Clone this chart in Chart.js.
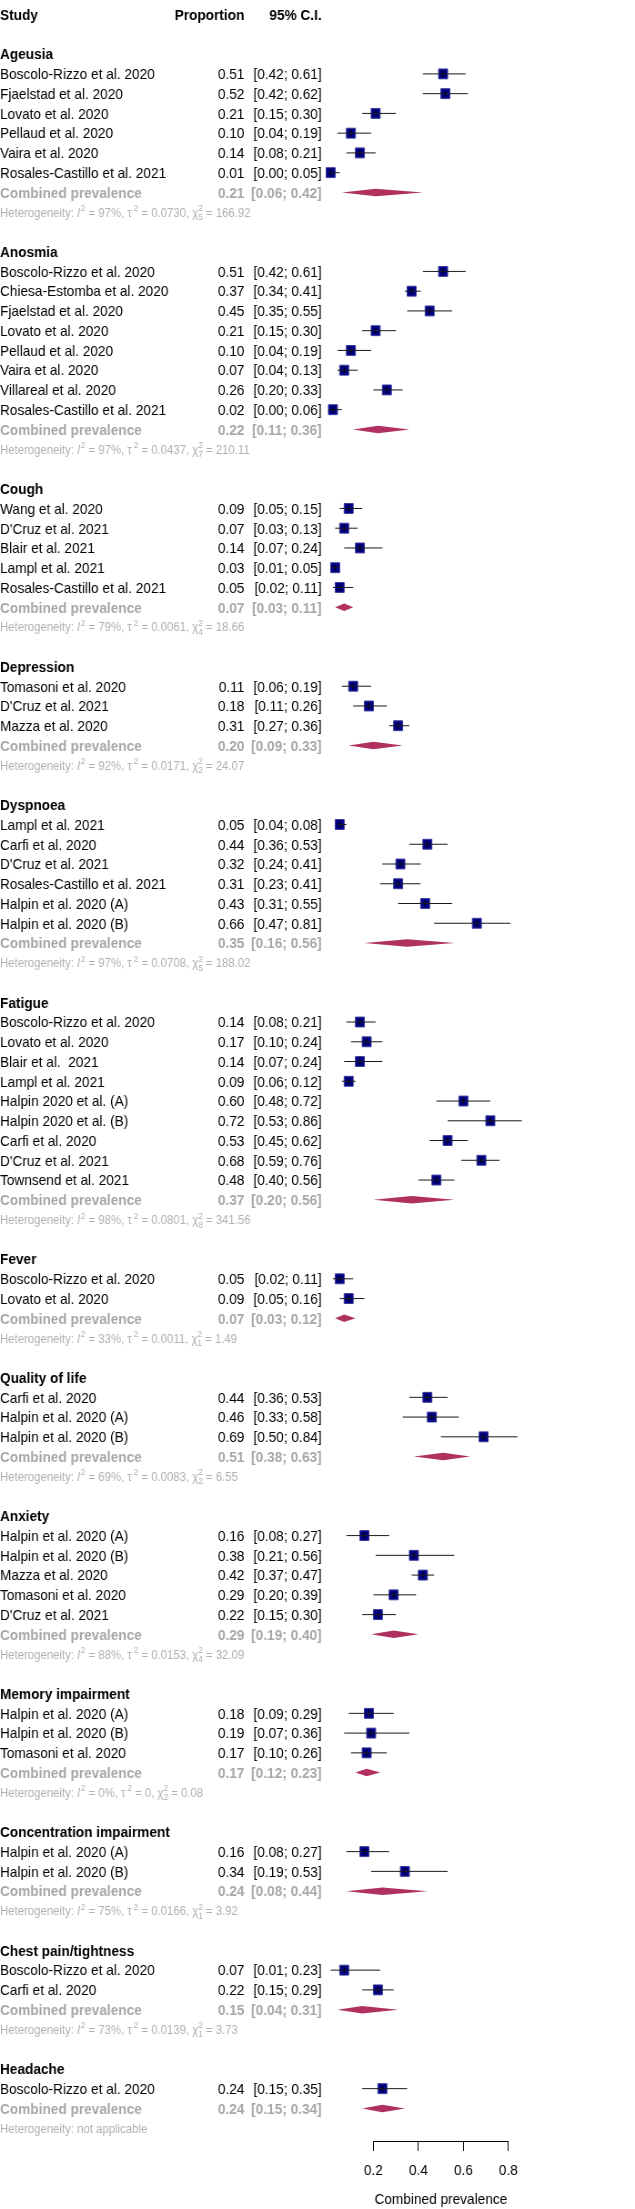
<!DOCTYPE html>
<html><head><meta charset="utf-8">
<script src="https://cdn.jsdelivr.net/npm/chart.js@4.4.1/dist/chart.umd.min.js"></script>
<style>html,body{margin:0;padding:0;background:#fff;overflow:hidden}</style>
</head><body>
<canvas id="c" width="698" height="2209" style="display:block;width:635px;height:2209px"></canvas>
<script>
// ---------------- data ----------------
const groupNames = ["Ageusia","Anosmia","Cough","Depression","Dyspnoea","Fatigue","Fever","Quality of life","Anxiety","Memory impairment","Concentration impairment","Chest pain/tightness","Headache"];
const groupSizes = [6,8,5,3,6,9,2,3,5,3,2,2,1];
const studyLabels = [
 "Boscolo-Rizzo et al. 2020","Fjaelstad et al. 2020","Lovato et al. 2020","Pellaud et al. 2020","Vaira et al. 2020","Rosales-Castillo et al. 2021",
 "Boscolo-Rizzo et al. 2020","Chiesa-Estomba et al. 2020","Fjaelstad et al. 2020","Lovato et al. 2020","Pellaud et al. 2020","Vaira et al. 2020","Villareal et al. 2020","Rosales-Castillo et al. 2021",
 "Wang et al. 2020","D'Cruz et al. 2021","Blair et al. 2021","Lampl et al. 2021","Rosales-Castillo et al. 2021",
 "Tomasoni et al. 2020","D'Cruz et al. 2021","Mazza et al. 2020",
 "Lampl et al. 2021","Carfi et al. 2020","D'Cruz et al. 2021","Rosales-Castillo et al. 2021","Halpin et al. 2020 (A)","Halpin et al. 2020 (B)",
 "Boscolo-Rizzo et al. 2020","Lovato et al. 2020","Blair et al.  2021","Lampl et al. 2021","Halpin 2020 et al. (A)","Halpin 2020 et al. (B)","Carfi et al. 2020","D'Cruz et al. 2021","Townsend et al. 2021",
 "Boscolo-Rizzo et al. 2020","Lovato et al. 2020",
 "Carfi et al. 2020","Halpin et al. 2020 (A)","Halpin et al. 2020 (B)",
 "Halpin et al. 2020 (A)","Halpin et al. 2020 (B)","Mazza et al. 2020","Tomasoni et al. 2020","D'Cruz et al. 2021",
 "Halpin et al. 2020 (A)","Halpin et al. 2020 (B)","Tomasoni et al. 2020",
 "Halpin et al. 2020 (A)","Halpin et al. 2020 (B)",
 "Boscolo-Rizzo et al. 2020","Carfi et al. 2020",
 "Boscolo-Rizzo et al. 2020"
];
const studyProp = [0.51,0.52,0.21,0.10,0.14,0.01, 0.51,0.37,0.45,0.21,0.10,0.07,0.26,0.02, 0.09,0.07,0.14,0.03,0.05, 0.11,0.18,0.31, 0.05,0.44,0.32,0.31,0.43,0.66, 0.14,0.17,0.14,0.09,0.60,0.72,0.53,0.68,0.48, 0.05,0.09, 0.44,0.46,0.69, 0.16,0.38,0.42,0.29,0.22, 0.18,0.19,0.17, 0.16,0.34, 0.07,0.22, 0.24];
const studyLower = [0.42,0.42,0.15,0.04,0.08,0.00, 0.42,0.34,0.35,0.15,0.04,0.04,0.20,0.00, 0.05,0.03,0.07,0.01,0.02, 0.06,0.11,0.27, 0.04,0.36,0.24,0.23,0.31,0.47, 0.08,0.10,0.07,0.06,0.48,0.53,0.45,0.59,0.40, 0.02,0.05, 0.36,0.33,0.50, 0.08,0.21,0.37,0.20,0.15, 0.09,0.07,0.10, 0.08,0.19, 0.01,0.15, 0.15];
const studyUpper = [0.61,0.62,0.30,0.19,0.21,0.05, 0.61,0.41,0.55,0.30,0.19,0.13,0.33,0.06, 0.15,0.13,0.24,0.05,0.11, 0.19,0.26,0.36, 0.08,0.53,0.41,0.41,0.55,0.81, 0.21,0.24,0.24,0.12,0.72,0.86,0.62,0.76,0.56, 0.11,0.16, 0.53,0.58,0.84, 0.27,0.56,0.47,0.39,0.30, 0.29,0.36,0.26, 0.27,0.53, 0.23,0.29, 0.35];
const combProp  = [0.21,0.22,0.07,0.20,0.35,0.37,0.07,0.51,0.29,0.17,0.24,0.15,0.24];
const combLower = [0.06,0.11,0.03,0.09,0.16,0.20,0.03,0.38,0.19,0.12,0.08,0.04,0.15];
const combUpper = [0.42,0.36,0.11,0.33,0.56,0.56,0.12,0.63,0.40,0.23,0.44,0.31,0.34];
const hetI2   = ["97%","97%","79%","92%","97%","98%","33%","69%","88%","0%","75%","73%",null];
const hetTau2 = ["0.0730","0.0437","0.0061","0.0171","0.0708","0.0801","0.0011","0.0083","0.0153","0","0.0166","0.0139",null];
const hetDf   = ["5","7","4","2","5","8","1","2","4","2","1","1",null];
const hetChi2 = ["166.92","210.11","18.66","24.07","188.02","341.56","1.49","6.55","32.09","0.08","3.92","3.73",null];
const xTicks = [0.2,0.4,0.6,0.8];
const xTitle = "Combined prevalence";
const headers = ["Study","Proportion","95% C.I."];

// ---------------- row layout ----------------
const headingRow = [], studyRow = [], combRow = [], hetRow = [];
let r = 2, k = 0;
groupSizes.forEach((n, g) => {
  headingRow.push(r++);
  for (let i = 0; i < n; i++) { studyRow.push(r++); k++; }
  combRow.push(r++);
  hetRow.push(r++);
  r++;
});

const ciData = [];
const estData = [];
studyProp.forEach((p, i) => {
  ciData.push({x: studyLower[i], y: studyRow[i]}, {x: studyUpper[i], y: studyRow[i]}, {x: null, y: null});
  estData.push({x: p, y: studyRow[i]});
});

const FONT = '"Liberation Sans", Arial, Helvetica, sans-serif';
const COL_VAL_R = 268.6, COL_CI_R = 353.6;
const GRAY_COMB = '#a7a7a7', GRAY_HET = '#b0b0b0', DIAMOND = '#B03060';
const f2 = v => v.toFixed(2);

function drawHet(ctx, g, y) {
  const base = y + 4.5;
  const norm = '12.5px ' + FONT, ital = 'italic 12.5px ' + FONT, small = '9px ' + FONT;
  ctx.fillStyle = GRAY_HET;
  ctx.textAlign = 'left';
  ctx.textBaseline = 'alphabetic';
  let x = 0;
  const put = (t, font, dy) => { ctx.font = font; ctx.fillText(t, x, base + (dy || 0)); x += ctx.measureText(t).width; };
  if (hetI2[g] === null) { put('Heterogeneity: not applicable', norm); return; }
  put('Heterogeneity: ', norm);
  put('I', ital); x += 0.5;
  put('2', small, -5.5);
  put(' = ' + hetI2[g] + ', \u03c4', norm); x += 2;
  put('2', small, -5.5);
  put(' = ' + hetTau2[g] + ', \u03c7', norm);
  ctx.font = small;
  const w1 = ctx.measureText('2').width, w2 = ctx.measureText(hetDf[g]).width;
  ctx.fillText('2', x, base - 5.5);
  ctx.fillText(hetDf[g], x, base + 3.5);
  x += Math.max(w1, w2);
  put(' = ' + hetChi2[g], norm);
}

const forestPlugin = {
  id: 'forest',
  afterDatasetsDraw(chart) {
    const ctx = chart.ctx, xs = chart.scales.x, ys = chart.scales.y;
    ctx.save();
    ctx.fillStyle = DIAMOND;
    combProp.forEach((p, g) => {
      const row = combRow[g];
      ctx.beginPath();
      ctx.moveTo(xs.getPixelForValue(combLower[g]), ys.getPixelForValue(row));
      ctx.lineTo(xs.getPixelForValue(p), ys.getPixelForValue(row - 0.19));
      ctx.lineTo(xs.getPixelForValue(combUpper[g]), ys.getPixelForValue(row));
      ctx.lineTo(xs.getPixelForValue(p), ys.getPixelForValue(row + 0.19));
      ctx.closePath();
      ctx.fill();
    });
    ctx.restore();
  },
  afterDraw(chart) {
    const ctx = chart.ctx, xs = chart.scales.x, ys = chart.scales.y;
    ctx.save();
    // axis line
    ctx.strokeStyle = '#000'; ctx.lineWidth = 1;
    const yb = Math.round(chart.chartArea.bottom) + 0.5;
    ctx.beginPath();
    ctx.moveTo(xs.getPixelForValue(xTicks[0]), yb);
    ctx.lineTo(xs.getPixelForValue(xTicks[xTicks.length - 1]), yb);
    ctx.stroke();

    ctx.textBaseline = 'alphabetic';
    const B = 5.3;
    // header
    const hy = ys.getPixelForValue(0) + B;
    ctx.fillStyle = '#000';
    ctx.font = 'bold 15px ' + FONT;
    ctx.textAlign = 'left'; ctx.fillText(headers[0], 0, hy);
    ctx.textAlign = 'right'; ctx.fillText(headers[1], COL_VAL_R, hy);
    ctx.fillText(headers[2], COL_CI_R, hy);

    // groups
    groupNames.forEach((name, g) => {
      ctx.fillStyle = '#000';
      ctx.font = 'bold 15px ' + FONT;
      ctx.textAlign = 'left';
      ctx.fillText(name, 0, ys.getPixelForValue(headingRow[g]) + B);
      const cy = ys.getPixelForValue(combRow[g]) + B;
      ctx.fillStyle = GRAY_COMB;
      ctx.fillText('Combined prevalence', 0, cy);
      ctx.textAlign = 'right';
      ctx.fillText(f2(combProp[g]), COL_VAL_R, cy);
      ctx.fillText('[' + f2(combLower[g]) + '; ' + f2(combUpper[g]) + ']', COL_CI_R, cy);
      drawHet(ctx, g, ys.getPixelForValue(hetRow[g]));
    });
    // studies
    ctx.fillStyle = '#000';
    ctx.font = '15px ' + FONT;
    studyLabels.forEach((lab, i) => {
      const y = ys.getPixelForValue(studyRow[i]) + B;
      ctx.textAlign = 'left';
      ctx.fillText(lab, 0, y);
      ctx.textAlign = 'right';
      ctx.fillText(f2(studyProp[i]), COL_VAL_R, y);
      ctx.fillText('[' + f2(studyLower[i]) + '; ' + f2(studyUpper[i]) + ']', COL_CI_R, y);
    });
    ctx.restore();
  }
};

new Chart(document.getElementById('c'), {
  type: 'scatter',
  data: {
    datasets: [
      { type: 'line', label: 'CI', data: ciData, borderColor: '#1a1a1a', borderWidth: 1,
        pointRadius: 0, spanGaps: false, fill: false, clip: false, order: 0 },
      { label: 'mark', data: estData, pointStyle: 'line', pointRotation: 90, pointRadius: 3,
        pointBorderColor: '#000', pointBorderWidth: 1, clip: false, order: 1 },
      { label: 'Proportion', data: estData, pointStyle: 'rect', pointRadius: 7,
        pointBackgroundColor: '#000080', pointBorderColor: '#3a3a9e', pointBorderWidth: 1, clip: false, order: 2 }
    ]
  },
  options: {
    responsive: false, animation: false, devicePixelRatio: 1,
    layout: { padding: { left: 361, right: 89.8, top: 0, bottom: 0 } },
    plugins: { legend: { display: false }, tooltip: { enabled: false } },
    events: [],
    scales: {
      x: {
        type: 'linear', min: 0, max: 1,
        afterBuildTicks: s => { s.ticks = xTicks.map(v => ({ value: v })); },
        border: { display: false },
        grid: { drawOnChartArea: false, drawTicks: true, tickLength: 10, color: '#000', lineWidth: 1 },
        ticks: { color: '#000', font: { family: FONT, size: 15 }, padding: 11, maxRotation: 0, autoSkip: false,
                 callback: v => Number(v).toFixed(1) },
        title: { display: true, text: xTitle, color: '#000', font: { family: FONT, size: 15 }, padding: { top: 0, bottom: 0 } }
      },
      y: { type: 'linear', reverse: true, min: -0.3365, max: 107.65, display: false }
    }
  },
  plugins: [forestPlugin]
});
</script>
</body></html>
